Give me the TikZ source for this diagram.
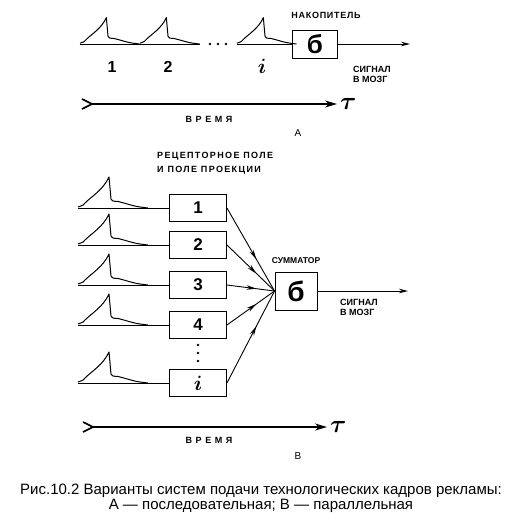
\documentclass[tikz,border=0pt]{standalone}
\usepackage{fontspec}
\setmainfont{Liberation Sans}
\usetikzlibrary{positioning, arrows.meta, decorations.markings}

\begin{document}
\begin{tikzpicture}[x=1pt, y=-1pt,
    wire/.style={line width=0.9pt},
    sig/.style={line width=0.9pt, -{Stealth[length=9pt, width=4.5pt]}},
    midarrow/.style={line width=0.9pt, postaction={decorate},
        decoration={markings, mark=at position 0.62 with {\arrow{Stealth[length=10pt, width=4.5pt]}}}},
    blk/.style={draw, line width=0.9pt, minimum width=57pt, minimum height=27pt, inner sep=0pt,
        font=\bfseries\fontsize{17}{17}\selectfont},
    accbox/.style={draw, line width=0.9pt, minimum width=45pt, minimum height=28pt, inner sep=0pt,
        font=\bfseries\fontsize{26}{26}\selectfont},
    sumbox/.style={draw, line width=0.9pt, minimum width=42pt, minimum height=38pt, inner sep=0pt,
        font=\bfseries\fontsize{28}{28}\selectfont},
    lbl/.style={font=\bfseries\fontsize{9}{10}\selectfont, align=left, inner sep=0pt},
    num/.style={font=\bfseries\fontsize{16}{16}\selectfont, inner sep=0pt},
    tau/.style={font=\boldmath\fontsize{24}{24}\selectfont, inner sep=0pt},
    pulse/.pic={
        \draw[line width=1pt, line join=round]
            (0,-1) .. controls (3,-3) and (4,-1) .. (7,-5)
            .. controls (14,-12) and (25,-18) .. (31,-31)
            -- (33,-9) .. controls (35,-5) and (38,-8) .. (42,-6)
            .. controls (50,-4) and (55,-2) .. (62,-1) -- (70,0);
    }
]
\useasboundingbox (0,0) rectangle (513,520);

% A: sequential feed
\node[accbox] (acc) at (315,44) {б};
\node[lbl, above=11pt of acc, xshift=11pt] (accl) {\addfontfeature{LetterSpace=8}НАКОПИТЕЛЬ};
\draw[wire] (80,44) -- (200,44);
\draw[wire] (237,44) -- (acc.west);
\pic[scale=0.85] at (80,44) {pulse};
\pic[scale=0.85] at (140,44) {pulse};
\pic[scale=0.85] at (237,44) {pulse};
\foreach \x in {210,218,226}
    \fill (\x,44) circle (1.4pt);
\node[num] (nA1) at (112,67) {1};
\node[num] (nA2) at (168,67) {2};
\node[tau, font=\boldmath\fontsize{20}{20}\selectfont] (nAi) at (262,66) {$i$};
\coordinate (outA) at (410,44);
\draw[sig] (acc.east) -- (outA);
\node[lbl, anchor=north west] (sigA) at (353,66) {СИГНАЛ\\В МОЗГ};

% time axis A
\coordinate (tA0) at (92,104);
\coordinate (tA1) at (337,104);
\draw[line width=1.6pt] (tA0) ++(-10,-5) -- (tA0) -- ++(-10,5);
\draw[line width=1.4pt, -{Stealth[length=12pt, width=7pt]}] (tA0) -- (tA1);
\node[tau, right=3pt of tA1] (tauA) {$\tau$};
\node[lbl] (timeA) at (209,119) {\addfontfeature{LetterSpace=40}ВРЕМЯ};
\node[lbl, font=\fontsize{10}{10}\selectfont] (capA) at (298,133) {А};

% B: parallel feed
\node[lbl, anchor=north west, font=\bfseries\fontsize{9}{14}\selectfont] (fld) at (157,152)
    {\addfontfeature{LetterSpace=15}РЕЦЕПТОРНОЕ ПОЛЕ\\
     \addfontfeature{LetterSpace=15}И ПОЛЕ ПРОЕКЦИИ};
\node[blk] (r1) at (198,208) {1};
\node[blk] (r2) at (198,245) {2};
\node[blk] (r3) at (198,285) {3};
\node[blk] (r4) at (198,325) {4};
\node[blk, font=\boldmath\fontsize{22}{22}\selectfont] (ri) at (198,383) {$i$};
\foreach \y in {345,353,361}
    \fill (198,\y) circle (1.4pt);
\foreach \n/\y in {r1/208, r2/245, r3/285, r4/325, ri/383} {
    \draw[wire] (78,\y) -- (\n.west);
    \pic at (78,\y) {pulse};
}
\node[sumbox] (sm) at (296,291) {б};
\node[lbl, above=8pt of sm, font=\bfseries\fontsize{8.5}{10}\selectfont] (sml) {СУММАТОР};
\foreach \n in {r1,r2,r3,r4,ri}
    \draw[midarrow] (\n.east) -- (sm.west);
\coordinate (outB) at (408,291);
\draw[sig] (sm.east) -- (outB);
\node[lbl, anchor=north west] (sigB) at (340,299) {СИГНАЛ\\В МОЗГ};

% time axis B
\coordinate (tB0) at (93,427);
\coordinate (tB1) at (327,427);
\draw[line width=1.6pt] (tB0) ++(-10,-5) -- (tB0) -- ++(-10,5);
\draw[line width=1.4pt, -{Stealth[length=12pt, width=7pt]}] (tB0) -- (tB1);
\node[tau, right=3pt of tB1] (tauB) {$\tau$};
\node[lbl] (timeB) at (209,440) {\addfontfeature{LetterSpace=40}ВРЕМЯ};
\node[lbl, font=\fontsize{10}{10}\selectfont] (capB) at (298,456) {В};

% caption
\node[align=center, font=\fontsize{15}{15}\selectfont, inner sep=0pt] (cap) at (261,498)
    {Рис.10.2 Варианты систем подачи технологических кадров рекламы:\\
     А --- последовательная; В --- параллельная};
\end{tikzpicture}
\end{document}
